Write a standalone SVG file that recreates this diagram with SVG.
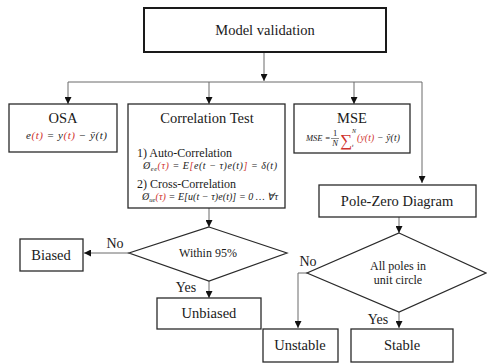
<svg xmlns="http://www.w3.org/2000/svg" width="487" height="363" viewBox="0 0 487 363" font-family="'Liberation Serif', 'Times New Roman', serif">
<style>
text{font-family:'Liberation Serif','Times New Roman',serif;fill:#1a1a1a}
.t{font-size:14.5px;text-anchor:middle}
.s{font-size:12px}
.lbl{font-size:14px}
.f{font-style:italic;font-size:10px}
.r{fill:#d0312d}
.box{fill:#fff;stroke:#2a2a2a;stroke-width:1.3}
.c{fill:none;stroke:#6b6b6b;stroke-width:1}
</style>
<defs>
<marker id="a" viewBox="0 0 10 10" refX="10" refY="5" markerWidth="7" markerHeight="7" markerUnits="userSpaceOnUse" orient="auto">
<path d="M0,0 L10,5 L0,10 z" fill="#111"/>
</marker>
</defs>
<rect width="487" height="363" fill="#fff"/>
<g id="connectors">
<path class="c" d="M264,52 V81" marker-end="url(#a)"/>
<path class="c" d="M68,82 H422 V183" marker-end="url(#a)"/>
<path class="c" d="M68,82 V104" marker-end="url(#a)"/>
<path class="c" d="M209,82 V104" marker-end="url(#a)"/>
<path class="c" d="M354,82 V104" marker-end="url(#a)"/>
<path class="c" d="M209,208 V227" marker-end="url(#a)"/>
<path class="c" d="M129,253 H84" marker-end="url(#a)"/>
<path class="c" d="M209,281 V298" marker-end="url(#a)"/>
<path class="c" d="M399,217 V233" marker-end="url(#a)"/>
<path class="c" d="M307,273 H298 V328" marker-end="url(#a)"/>
<path class="c" d="M399,312 V328" marker-end="url(#a)"/>
<text class="lbl" x="115" y="248" text-anchor="middle">No</text>
<text class="lbl" x="186" y="292" text-anchor="middle">Yes</text>
<text class="lbl" x="308" y="266" text-anchor="middle">No</text>
<text class="lbl" x="378" y="324" text-anchor="middle">Yes</text>
</g>
<g id="model-validation">
<rect x="144" y="8" width="242" height="44" fill="#fff" stroke="#1a1a1a" stroke-width="2"/>
<text class="t" x="265" y="35">Model validation</text>
</g>
<g id="osa">
<rect class="box" x="9" y="104" width="108" height="48"/>
<text class="t" x="63" y="123">OSA</text>
<text class="f" x="26" y="139" textLength="81" lengthAdjust="spacing" style="font-size:11px">e<tspan class="r">(t)</tspan> = y<tspan class="r">(t)</tspan> − ȳ(t)</text>
</g>
<g id="correlation-test">
<rect class="box" x="128" y="104" width="157" height="104"/>
<text class="t" x="207" y="123">Correlation Test</text>
<text class="s" x="137" y="157">1) Auto-Correlation</text>
<text class="f" x="143" y="169" textLength="134" lengthAdjust="spacing">Ø<tspan dy="2" style="font-size:6.5px">ee</tspan><tspan dy="-2" class="r">(τ)</tspan> = E<tspan class="r">[</tspan>e(t − τ)e(t)<tspan class="r">]</tspan> = δ(t)</text>
<text class="s" x="137" y="188">2) Cross-Correlation</text>
<text class="f" x="142" y="200" textLength="136" lengthAdjust="spacing">Ø<tspan dy="2" style="font-size:6.5px">ue</tspan><tspan dy="-2" class="r">(τ)</tspan> = E[u(t − τ)e(t)] = 0 … ∀τ</text>
</g>
<g id="mse">
<rect class="box" x="294" y="104" width="116" height="49"/>
<text class="t" x="352" y="123">MSE</text>
<text class="f" x="306" y="141" style="font-size:8.5px">MSE =</text>
<text class="f" x="335" y="136" text-anchor="middle" style="font-style:normal;font-size:8.5px">1</text>
<line x1="331" y1="138.5" x2="339" y2="138.5" stroke="#1a1a1a" stroke-width="0.5"/>
<text class="f" x="335" y="146" text-anchor="middle" style="font-size:8.5px">N</text>
<text class="r" x="340" y="146" style="font-size:17px">∑</text>
<text class="f" x="352" y="133" style="font-size:6px">N</text>
<text class="f" x="352" y="147" style="font-size:5px">t</text>
<text class="f" x="357" y="141" textLength="43" lengthAdjust="spacing" style="font-size:9.5px"><tspan class="r">(y(t)</tspan> − ŷ(t)</text>
</g>
<g id="within-95">
<polygon points="209,227 287,253 209,281 129,253" fill="#fff" stroke="#2a2a2a" stroke-width="1.2"/>
<text class="s" x="208" y="257" text-anchor="middle">Within 95%</text>
</g>
<g id="biased">
<rect class="box" x="20" y="239" width="63" height="32"/>
<text class="t" x="51" y="260">Biased</text>
</g>
<g id="unbiased">
<rect class="box" x="157" y="298" width="104" height="31"/>
<text class="t" x="209" y="318">Unbiased</text>
</g>
<g id="pole-zero">
<rect class="box" x="319" y="185" width="157" height="32"/>
<text class="t" x="397" y="206">Pole-Zero Diagram</text>
</g>
<g id="all-poles">
<polygon points="399,233 486,273 399,312 307,273" fill="#fff" stroke="#2a2a2a" stroke-width="1.2"/>
<text class="s" x="398" y="270" text-anchor="middle">All poles in</text>
<text class="s" x="398" y="284" text-anchor="middle">unit circle</text>
</g>
<g id="unstable">
<rect class="box" x="263" y="329" width="75" height="33"/>
<text class="t" x="300" y="350">Unstable</text>
</g>
<g id="stable">
<rect class="box" x="351" y="329" width="102" height="33"/>
<text class="t" x="402" y="350">Stable</text>
</g>
</svg>
